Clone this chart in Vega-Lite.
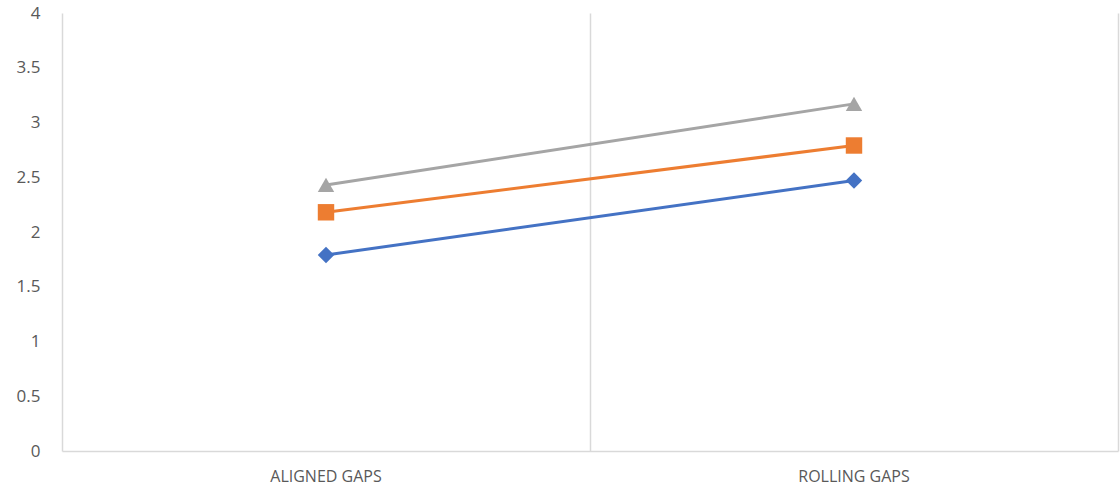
{
  "$schema": "https://vega.github.io/schema/vega-lite/v6.json",
  "width": 1056,
  "height": 438,
  "autosize": "none",
  "padding": {"left": 62, "top": 13, "right": 2, "bottom": 39},
  "background": "white",
  "config": {"view": {"stroke": null}, "font": "Open Sans"},
  "data": {"values": [
    {"cat": "ALIGNED GAPS", "series": "A", "value": 1.79},
    {"cat": "ROLLING GAPS", "series": "A", "value": 2.47},
    {"cat": "ALIGNED GAPS", "series": "B", "value": 2.18},
    {"cat": "ROLLING GAPS", "series": "B", "value": 2.79},
    {"cat": "ALIGNED GAPS", "series": "C", "value": 2.43},
    {"cat": "ROLLING GAPS", "series": "C", "value": 3.17}
  ]},
  "encoding": {
    "x": {"field": "cat", "type": "nominal", "sort": ["ALIGNED GAPS", "ROLLING GAPS"],
      "scale": {"type": "band", "paddingInner": 0, "paddingOuter": 0},
      "axis": {"title": null, "labelAngle": 0, "labelFontSize": 16, "labelColor": "#595959", "labelPadding": 17, "ticks": false, "grid": true, "bandPosition": 0, "gridColor": "#d9d9d9", "gridWidth": 1.5, "domainColor": "#d9d9d9", "domainWidth": 1.5}},
    "color": {"field": "series", "type": "nominal", "legend": null,
      "scale": {"domain": ["A", "B", "C"], "range": ["#4472C4", "#ED7D31", "#A5A5A5"]}}
  },
  "layer": [
    {"mark": {"type": "line", "strokeWidth": 3},
      "encoding": {"y": {"field": "value", "type": "quantitative", "scale": {"domain": [0, 4]},
        "axis": {"title": null, "values": [0, 0.5, 1, 1.5, 2, 2.5, 3, 3.5, 4], "format": "~g", "labelFontSize": 17, "labelColor": "#595959", "labelPadding": 22, "ticks": false, "grid": false, "domain": false}}}},
    {"mark": {"type": "point", "filled": true, "opacity": 1, "size": 270},
      "encoding": {"y": {"field": "value", "type": "quantitative", "axis": null},
        "shape": {"field": "series", "type": "nominal", "legend": null,
        "scale": {"domain": ["A", "B", "C"], "range": ["diamond", "square", "triangle-up"]}}}},
    {"mark": {"type": "point", "opacity": 0},
      "encoding": {"y": {"field": "value", "type": "quantitative", "axis": {"orient": "right", "labels": false, "ticks": false, "grid": false, "title": null, "domain": true, "domainColor": "#d9d9d9", "domainWidth": 1.5}}}}
  ],
  "resolve": {"axis": {"y": "independent"}}
}
